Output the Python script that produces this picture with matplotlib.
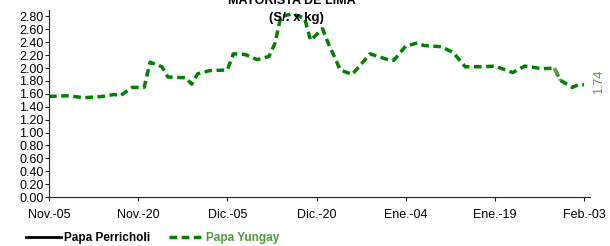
import matplotlib
matplotlib.use("Agg")
import matplotlib.pyplot as plt
import numpy as np
import pandas as pd

# Papa Yungay wholesale price, Lima (S/. x kg), daily
start = pd.Timestamp("2022-11-05")
day_offsets = [0, 3, 6, 9, 11, 12, 14, 16, 17, 19, 20, 23, 24, 25, 27, 30,
               31, 33, 35, 37, 38, 39, 41, 43, 44, 46, 47, 49, 51, 54, 57, 58,
               60, 62, 63, 66, 68, 70, 73, 75, 78, 80, 83, 85, 86, 88, 89, 90]
yungay = [1.56, 1.57, 1.54, 1.56, 1.59, 1.57, 1.70, 1.70, 2.09, 2.02, 1.86, 1.85,
          1.75, 1.91, 1.96, 1.97, 2.22, 2.21, 2.13, 2.18, 2.38, 2.80, 2.84, 2.77,
          2.43, 2.61, 2.38, 1.97, 1.90, 2.22, 2.13, 2.12, 2.34, 2.39, 2.35, 2.33,
          2.24, 2.02, 2.02, 2.03, 1.93, 2.03, 1.99, 2.00, 1.81, 1.70, 1.74, 1.74]
dates = [start + pd.Timedelta(days=d) for d in day_offsets]

tick_dates = [start + pd.Timedelta(days=15 * i) for i in range(7)]
tick_labels = ["Nov.-05", "Nov.-20", "Dic.-05", "Dic.-20", "Ene.-04", "Ene.-19", "Feb.-03"]
y_ticks = np.arange(0, 2.81, 0.2)

GREEN = "#008000"
OLIVE = "#6b9a3a"
LABEL_GREEN = "#4f9a3a"

plt.rcParams["font.family"] = ["Liberation Sans", "DejaVu Sans"]

fig = plt.figure(figsize=(6.10, 2.46), dpi=100)
ax = fig.add_axes([49 / 610, 49 / 246, (590 - 49) / 610, (197 - 10) / 246])

(peri,) = ax.plot([], [], color="black", linewidth=2, label="Papa Perricholi")
(yung,) = ax.plot(dates, yungay, color=GREEN, linewidth=2.5, dashes=(2.2, 1.3),
                  label="Papa Yungay")
# short olive stretch near the end
ax.plot(dates[-5:-3], yungay[-5:-3], color=OLIVE, linewidth=2.5, dashes=(2.2, 1.3))

ax.annotate(f"{yungay[-1]:.2f}", xy=(dates[-1], yungay[-1]), xytext=(11, 2),
            textcoords="offset points", rotation=90, ha="center", va="center",
            color=LABEL_GREEN, fontsize=9)

ax.set_xlim(start, start + pd.Timedelta(days=91))
ax.set_ylim(0, 2.9)
ax.set_xticks(tick_dates)
ax.set_xticklabels(tick_labels)
ax.set_yticks(y_ticks)
ax.set_yticklabels([f"{v:.2f}" for v in y_ticks])
ax.tick_params(axis="both", labelsize=9, length=3, width=0.8, colors="#222222",
               labelcolor="black", pad=1)
ax.tick_params(axis="x", pad=6)
for s in ["top", "right"]:
    ax.spines[s].set_visible(False)
for s in ["left", "bottom"]:
    ax.spines[s].set_color("#222222")
    ax.spines[s].set_linewidth(0.8)

fig.text(292 / 610, 1 - 4 / 246, "MAYORISTA DE LIMA", ha="center", va="baseline",
         fontsize=9, fontweight="bold")
fig.text(296 / 610, 1 - 21 / 246, "(S/. x kg)", ha="center", va="baseline",
         fontsize=9.5, fontweight="bold")

leg = fig.legend(handles=[peri, yung], loc="center left", bbox_to_anchor=(20 / 610, 8 / 246),
                 ncol=2, frameon=False, handlelength=3, handletextpad=0.2,
                 columnspacing=1.6, borderpad=0, prop={"size": 8.5, "weight": "bold"})
leg.get_texts()[1].set_color(LABEL_GREEN)

fig.savefig("out.png", dpi=100)
